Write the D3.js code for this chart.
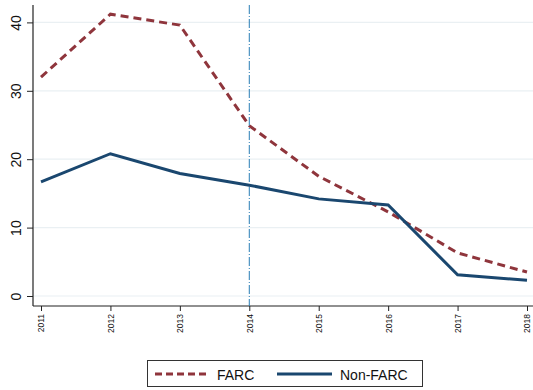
<!DOCTYPE html>
<html>
<head>
<meta charset="utf-8">
<script src="https://cdn.jsdelivr.net/npm/d3@7"></script>
<style>
  html, body { margin: 0; padding: 0; background: #fff; }
  svg { display: block; font-family: "Liberation Sans", Arial, sans-serif; }
</style>
</head>
<body>
<svg id="chart" width="533" height="390"></svg>
<script>
// Years on the horizontal axis
const years = [2011, 2012, 2013, 2014, 2015, 2016, 2017, 2018];
// Series values
const farc = [32.0, 41.2, 39.6, 24.9, 17.5, 12.3, 6.3, 3.5];
const nonFarc = [16.7, 20.8, 17.9, 16.2, 14.2, 13.3, 3.1, 2.3];
// Axis ticks
const yTicks = [0, 10, 20, 30, 40];
const markerYear = 2014;
const seriesNames = ["FARC", "Non-FARC"];

const svg = d3.select("#chart");
const plot = { left: 33, right: 533, top: 5, bottom: 306 };

const x = d3.scaleLinear().domain([2011, 2018]).range([41, 527]);
const y = d3.scaleLinear().domain([0, 40]).range([296, 22.4]);

// Horizontal grid lines
svg.append("g").selectAll("line").data(yTicks).join("line")
  .attr("x1", plot.left).attr("x2", plot.right)
  .attr("y1", d => y(d)).attr("y2", d => y(d))
  .attr("stroke", "#eaf0f3").attr("stroke-width", 1.2);

// Y axis
const yAxis = svg.append("g").attr("transform", `translate(${plot.left},0)`)
  .call(d3.axisLeft(y).tickValues(yTicks).tickSize(6));
yAxis.select(".domain").attr("d", `M0,${plot.top}V${plot.bottom}`).attr("stroke", "#222").attr("stroke-width", 1.2);
yAxis.selectAll(".tick line").attr("stroke", "#222");
yAxis.selectAll(".tick text")
  .attr("font-size", 14).attr("fill", "#111")
  .attr("transform", "rotate(-90)")
  .attr("x", 0).attr("y", -12)
  .attr("dy", "0")
  .attr("text-anchor", "middle");

// X axis
const xAxis = svg.append("g").attr("transform", `translate(0,${plot.bottom})`)
  .call(d3.axisBottom(x).tickValues(years).tickFormat(d3.format("d")).tickSize(5));
xAxis.select(".domain").attr("d", `M${plot.left},0H${plot.right}`).attr("stroke", "#222").attr("stroke-width", 1.2);
xAxis.selectAll(".tick line").attr("stroke", "#222");
xAxis.selectAll(".tick text")
  .attr("font-size", 8.5).attr("fill", "#111")
  .attr("transform", "rotate(-90)")
  .attr("x", -8).attr("y", 0).attr("dy", "0.35em")
  .attr("text-anchor", "end");

// Vertical reference line
svg.append("line")
  .attr("x1", x(markerYear)).attr("x2", x(markerYear))
  .attr("y1", plot.top).attr("y2", plot.bottom)
  .attr("stroke", "#2a7db5").attr("stroke-width", 1)
  .attr("stroke-dasharray", "9,2,1,2");

const line = d3.line().x((d, i) => x(years[i])).y(d => y(d));

svg.append("path").datum(farc)
  .attr("d", line).attr("fill", "none")
  .attr("stroke", "#8f353c").attr("stroke-width", 3)
  .attr("stroke-dasharray", "8,5");

svg.append("path").datum(nonFarc)
  .attr("d", line).attr("fill", "none")
  .attr("stroke", "#1a476f").attr("stroke-width", 3);

// Legend
const lg = svg.append("g");
lg.append("rect").attr("x", 147.5).attr("y", 360.5).attr("width", 275).attr("height", 26)
  .attr("fill", "#fff").attr("stroke", "#333").attr("stroke-width", 1);
lg.append("line").attr("x1", 155).attr("x2", 210).attr("y1", 374).attr("y2", 374)
  .attr("stroke", "#8f353c").attr("stroke-width", 3).attr("stroke-dasharray", "7,4");
lg.append("text").attr("x", 217).attr("y", 380).attr("font-size", 14).attr("fill", "#111").text(seriesNames[0]);
lg.append("line").attr("x1", 277).attr("x2", 332).attr("y1", 374).attr("y2", 374)
  .attr("stroke", "#1a476f").attr("stroke-width", 3);
lg.append("text").attr("x", 340).attr("y", 380).attr("font-size", 14).attr("fill", "#111").text(seriesNames[1]);
</script>
</body>
</html>
